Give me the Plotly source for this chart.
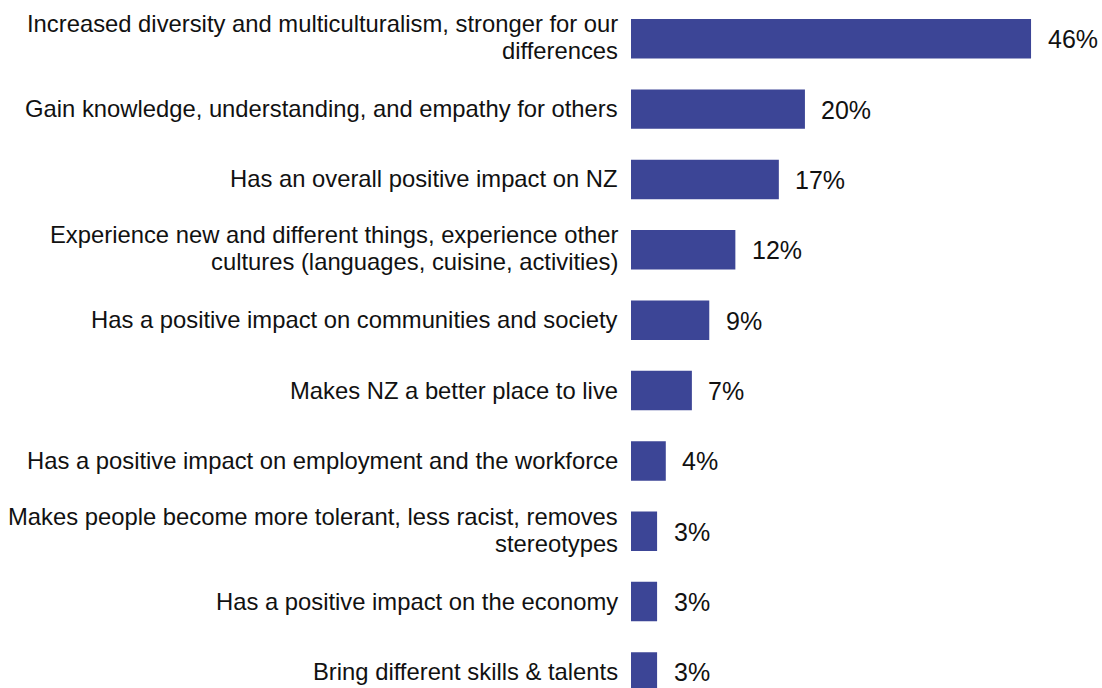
import plotly.graph_objects as go

# Survey responses: perceived benefits of cultural diversity (% of respondents)
categories = [
    "Increased diversity and multiculturalism, stronger for our<br>differences",
    "Gain knowledge, understanding, and empathy for others",
    "Has an overall positive impact on NZ",
    "Experience new and different things, experience other<br>cultures (languages, cuisine, activities)",
    "Has a positive impact on communities and society",
    "Makes NZ a better place to live",
    "Has a positive impact on employment and the workforce",
    "Makes people become more tolerant, less racist, removes<br>stereotypes",
    "Has a positive impact on the economy",
    "Bring different skills & talents",
]
values = [46, 20, 17, 12, 9, 7, 4, 3, 3, 3]
value_labels = [f"{v}%" for v in values]

BAR_COLOR = "#3C4596"
FONT = "Liberation Sans, Arial, sans-serif"
TEXT_COLOR = "#111111"
LINE_GAP = 26.7  # px between wrapped label lines

fig = go.Figure(
    go.Bar(
        x=values,
        y=categories,
        orientation="h",
        width=0.561,
        marker=dict(color=BAR_COLOR, line=dict(width=0)),
        hoverinfo="skip",
    )
)

annotations = []
# category labels, one annotation per wrapped line, right-aligned against the bars
for cat in categories:
    lines = cat.split("<br>")
    n = len(lines)
    for k, line in enumerate(lines):
        shift = ((n - 1) / 2 - k) * LINE_GAP + (1.5 if n > 1 else 0.5)
        annotations.append(dict(
            x=0, xref="paper", y=cat, yref="y",
            text=line, showarrow=False,
            xanchor="right", yanchor="middle",
            xshift=-11, yshift=shift,
            font=dict(family=FONT, size=23.8, color=TEXT_COLOR),
        ))

# value labels to the right of each bar
for cat, v, lab in zip(categories, values, value_labels):
    annotations.append(dict(
        x=v, xref="x", y=cat, yref="y",
        text=lab, showarrow=False,
        xanchor="left", yanchor="middle",
        xshift=14.5, yshift=-0.5,
        font=dict(family=FONT, size=25, color=TEXT_COLOR),
    ))

fig.update_layout(
    width=1102, height=688,
    margin=dict(l=631, r=0, t=0, b=0),
    paper_bgcolor="white", plot_bgcolor="white",
    showlegend=False,
    annotations=annotations,
    xaxis=dict(range=[0, 54.16], visible=False, fixedrange=True),
    yaxis=dict(
        categoryorder="array", categoryarray=categories,
        range=[9.228, -0.551],
        showticklabels=False, showgrid=False, zeroline=False,
        showline=False, ticks="", fixedrange=True,
    ),
)

fig.write_html("out.html", config={"displayModeBar": False})
